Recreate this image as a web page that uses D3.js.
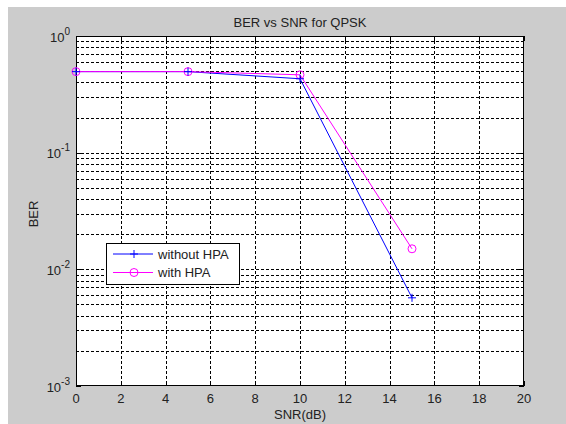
<!DOCTYPE html>
<html><head><meta charset="utf-8">
<script src="https://cdn.jsdelivr.net/npm/d3@7"></script>
<style>html,body{margin:0;padding:0;background:#fff;}svg{display:block;}</style>
</head><body>
<svg id="c" width="566" height="424"></svg>
<script>
const snr = [0, 5, 10, 15];
const berWithout = [0.495, 0.495, 0.43, 0.0057];
const berWith = [0.495, 0.495, 0.465, 0.015];
const xTicks = [0, 2, 4, 6, 8, 10, 12, 14, 16, 18, 20];
const yTickExps = [0, -1, -2, -3];
const seriesNames = ["without HPA", "with HPA"];
const seriesColors = ["#0000ff", "#ff00ff"];

const svg = d3.select("#c");
const font = "'Liberation Sans', Arial, sans-serif";
const L = 76, R = 524, T = 36, B = 386;

svg.append("rect").attr("x", 8).attr("y", 7).attr("width", 558).attr("height", 417).attr("fill", "#cccccc");
svg.append("rect").attr("x", L).attr("y", T).attr("width", R - L).attr("height", B - T).attr("fill", "#fff");

const x = d3.scaleLinear().domain([0, 20]).range([L, R]);
const y = d3.scaleLog().domain([1e-3, 1]).range([B, T]);

// minor + major y values
const yAll = [];
for (let e = -3; e < 0; e++) for (let m = 1; m <= 9; m++) yAll.push(m * Math.pow(10, e));
yAll.push(1);

const g = svg.append("g");
// grid
g.selectAll(".hg").data(yAll.filter(v => v > 1e-3 && v < 1)).enter().append("line")
  .attr("x1", L).attr("x2", R).attr("y1", d => Math.round(y(d)) + 0.5).attr("y2", d => Math.round(y(d)) + 0.5)
  .attr("stroke", "#000").attr("stroke-width", 1).attr("stroke-dasharray", "3,2");
g.selectAll(".vg").data(xTicks.filter(v => v > 0 && v < 20)).enter().append("line")
  .attr("y1", T).attr("y2", B).attr("x1", d => Math.round(x(d)) + 0.5).attr("x2", d => Math.round(x(d)) + 0.5)
  .attr("stroke", "#000").attr("stroke-width", 1).attr("stroke-dasharray", "3,2");

// ticks (inside, all sides)
xTicks.forEach(v => {
  const px = Math.round(x(v)) + 0.5;
  g.append("line").attr("x1", px).attr("x2", px).attr("y1", B).attr("y2", B - 5).attr("stroke", "#000");
  g.append("line").attr("x1", px).attr("x2", px).attr("y1", T).attr("y2", T + 5).attr("stroke", "#000");
});
yAll.forEach(v => {
  const py = Math.round(y(v)) + 0.5;
  const major = Math.abs(Math.log10(v) - Math.round(Math.log10(v))) < 1e-9;
  const len = major ? 5 : 3;
  g.append("line").attr("x1", L).attr("x2", L + len).attr("y1", py).attr("y2", py).attr("stroke", "#000");
  g.append("line").attr("x1", R).attr("x2", R - len).attr("y1", py).attr("y2", py).attr("stroke", "#000");
});

// axes frame
g.append("rect").attr("x", L + 0.5).attr("y", T + 0.5).attr("width", R - L - 1).attr("height", B - T - 1)
  .attr("fill", "none").attr("stroke", "#000").attr("stroke-width", 1);

// x tick labels
svg.selectAll(".xl").data(xTicks).enter().append("text")
  .attr("x", d => x(d)).attr("y", 403).attr("text-anchor", "middle")
  .attr("font-family", font).attr("font-size", 13).attr("fill", "#222").text(d => d);

// y tick labels
yTickExps.forEach(e => {
  const t = svg.append("text").attr("x", 70).attr("y", y(Math.pow(10, e)) + 5.5).attr("text-anchor", "end")
    .attr("font-family", font).attr("font-size", 13).attr("fill", "#222");
  t.append("tspan").text("10");
  t.append("tspan").attr("dy", -7).attr("font-size", 10).text(String(e));
});

// titles
svg.append("text").attr("x", 300).attr("y", 27).attr("text-anchor", "middle")
  .attr("font-family", font).attr("font-size", 13).attr("fill", "#222").text("BER vs SNR for QPSK");
svg.append("text").attr("x", 300).attr("y", 419).attr("text-anchor", "middle")
  .attr("font-family", font).attr("font-size", 13).attr("fill", "#222").text("SNR(dB)");
svg.append("text").attr("transform", "translate(38,214) rotate(-90)").attr("text-anchor", "middle")
  .attr("font-family", font).attr("font-size", 13).attr("fill", "#222").text("BER");

// series
const line = d3.line().x(d => x(d[0])).y(d => y(d[1]));
const dataSets = [snr.map((s, i) => [s, berWithout[i]]), snr.map((s, i) => [s, berWith[i]])];

function marker(sel, kind, color) {
  if (kind === 0) {
    sel.append("path").attr("d", "M-4,0H4M0,-4V4").attr("stroke", color).attr("stroke-width", 1).attr("fill", "none");
  } else {
    sel.append("circle").attr("r", 4).attr("stroke", color).attr("stroke-width", 1).attr("fill", "none");
  }
}

dataSets.forEach((ds, k) => {
  svg.append("path").datum(ds).attr("d", line).attr("fill", "none")
    .attr("stroke", seriesColors[k]).attr("stroke-width", 1);
});
[1, 0].forEach(k => {
  dataSets[k].forEach(d => {
    const m = svg.append("g").attr("transform", `translate(${x(d[0])},${y(d[1])})`);
    marker(m, k, seriesColors[k]);
  });
});

// legend
const lg = svg.append("g");
lg.append("rect").attr("x", 106.5).attr("y", 243.5).attr("width", 133).attr("height", 41)
  .attr("fill", "#fff").attr("stroke", "#000");
seriesNames.forEach((n, k) => {
  const cy = 254 + k * 18.5;
  lg.append("line").attr("x1", 113).attr("x2", 153).attr("y1", cy).attr("y2", cy)
    .attr("stroke", seriesColors[k]).attr("stroke-width", 1);
  const m = lg.append("g").attr("transform", `translate(134,${cy})`);
  marker(m, k, seriesColors[k]);
  lg.append("text").attr("x", 158).attr("y", cy + 4.5).attr("font-family", font).attr("font-size", 13)
    .attr("fill", "#222").text(n);
});
</script>
</body></html>
